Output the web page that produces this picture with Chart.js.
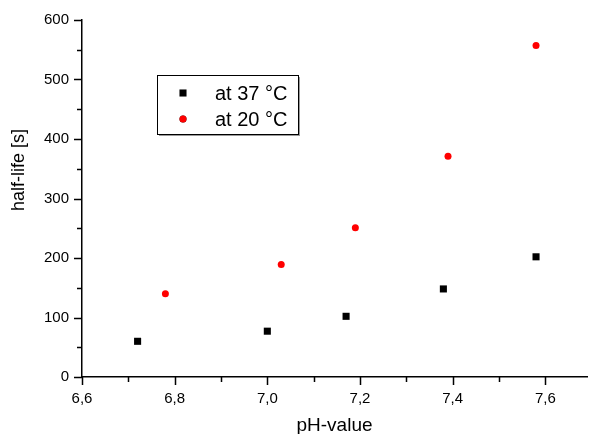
<!DOCTYPE html>
<html>
<head>
<meta charset="utf-8">
<script src="https://cdn.jsdelivr.net/npm/chart.js@4/dist/chart.umd.min.js"></script>
<style>
html,body{margin:0;padding:0;background:#fff;}
#wrap{width:592px;height:434px;position:relative;}
</style>
</head>
<body>
<div id="wrap"><canvas id="c"></canvas></div>
<script>
// ---- data ----
const seriesNames = ['at 37 °C', 'at 20 °C'];
const ph37 = [6.72, 7.00, 7.17, 7.38, 7.58];
const half37 = [60, 77, 102, 148, 202];
const ph20 = [6.78, 7.03, 7.19, 7.39, 7.58];
const half20 = [140, 189, 251, 371, 557];
const xTitle = 'pH-value';
const yTitle = 'half-life [s]';

const FONT = "'Liberation Sans', Arial, Helvetica, sans-serif";

function pts(xs, ys){ return xs.map((x,i)=>({x:x, y:ys[i]})); }

const tickPlugin = {
  id: 'outTicks',
  afterDraw(chart){
    const ctx = chart.ctx;
    const xs = chart.scales.x, ys = chart.scales.y;
    ctx.save();
    ctx.strokeStyle = '#000';
    ctx.lineWidth = 1.5;
    ctx.beginPath();
    xs.ticks.forEach(t=>{
      const v = Math.round(t.value*10);
      const major = v % 2 === 0;
      const px = Math.round(xs.getPixelForValue(t.value)) + 0.5;
      ctx.moveTo(px, xs.top);
      ctx.lineTo(px, xs.top + (major ? 8 : 5));
    });
    ys.ticks.forEach(t=>{
      const major = Math.round(t.value) % 100 === 0;
      const py = Math.round(ys.getPixelForValue(t.value)) + 0.5;
      ctx.moveTo(ys.right, py);
      ctx.lineTo(ys.right - (major ? 8 : 5), py);
    });
    ctx.stroke();
    // y title
    ctx.fillStyle = '#000';
    ctx.font = '18px ' + FONT;
    ctx.textAlign = 'center';
    ctx.textBaseline = 'middle';
    ctx.translate(19, 170);
    ctx.rotate(-Math.PI/2);
    ctx.fillText(yTitle, 0, 0);
    ctx.restore();
  }
};

const legendPlugin = {
  id: 'boxLegend',
  afterDraw(chart, args, opts){
    const ctx = chart.ctx;
    const {x, y, w, h, rowH, markerX, textX} = opts;
    ctx.save();
    // shadow
    ctx.fillStyle = '#999';
    ctx.fillRect(x + 2, y + h, w, 2);
    ctx.fillRect(x + w, y + 2, 2, h);
    ctx.fillStyle = '#fff';
    ctx.fillRect(x, y, w, h);
    ctx.strokeStyle = '#000';
    ctx.lineWidth = 1;
    ctx.strokeRect(x + 0.5, y + 0.5, w, h);
    chart.data.datasets.forEach((ds, i)=>{
      const cy = y + 18 + i * rowH;
      Chart.helpers.drawPoint(ctx, {
        pointStyle: ds.pointStyle, radius: ds.pointRadius, borderWidth: 0, rotation: 0
      }, markerX, cy);
      ctx.fillStyle = ds.pointBackgroundColor;
      ctx.fill();
      ctx.fillStyle = '#000';
      ctx.font = '20px ' + FONT;
      ctx.textAlign = 'left';
      ctx.textBaseline = 'middle';
      ctx.fillText(ds.label, textX, cy + 1);
    });
    ctx.restore();
  }
};

new Chart(document.getElementById('c'), {
  type: 'scatter',
  data: {
    datasets: [
      { label: seriesNames[0], data: pts(ph37, half37), pointStyle: 'rect', pointRadius: 5,
        pointBackgroundColor: '#000', pointBorderWidth: 0, backgroundColor: '#000', borderColor: '#000', pointHoverRadius: 5 },
      { label: seriesNames[1], data: pts(ph20, half20), pointStyle: 'circle', pointRadius: 3.5,
        pointBackgroundColor: '#ff0000', pointBorderWidth: 0, backgroundColor: '#ff0000', borderColor: '#ff0000', pointHoverRadius: 3.5 }
    ]
  },
  options: {
    responsive: true,
    maintainAspectRatio: false,
    animation: false,
    events: [],
    layout: { padding: { top: 20, right: 1, left: 0, bottom: 0 } },
    plugins: {
      legend: { display: false },
      tooltip: { enabled: false },
      boxLegend: { x: 157, y: 75, w: 141, h: 59, rowH: 26, markerX: 183, textX: 215 }
    },
    scales: {
      x: {
        type: 'linear',
        min: 6.6, max: 7.69,
        grid: { display: false },
        border: { display: true, color: '#000', width: 1.5 },
        ticks: {
          stepSize: 0.1, includeBounds: false, autoSkip: false, maxRotation: 0,
          color: '#000', padding: 5,
          font: { family: FONT, size: 15 },
          callback: (v)=> (Math.round(v*10) % 2 === 0) ? v.toFixed(1).replace('.', ',') : ''
        },
        title: { display: true, text: xTitle, color: '#000', font: { family: FONT, size: 19, lineHeight: 0.85 }, padding: { top: 0, bottom: 0 } },
        afterFit: (s)=>{ s.height = 57; }
      },
      y: {
        type: 'linear',
        min: 0, max: 600,
        grid: { display: false },
        border: { display: true, color: '#000', width: 1.5 },
        ticks: {
          stepSize: 50, includeBounds: false, autoSkip: false,
          color: '#000', padding: 5,
          font: { family: FONT, size: 15 },
          callback: (v)=> (Math.round(v) % 100 === 0) ? String(v) : ''
        },
        afterFit: (s)=>{ s.width = 82; }
      }
    }
  },
  plugins: [tickPlugin, legendPlugin]
});
</script>
</body>
</html>
